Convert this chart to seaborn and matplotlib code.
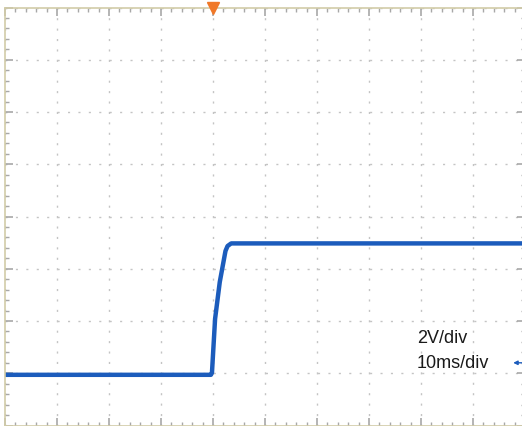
import matplotlib
matplotlib.use("Agg")
import matplotlib.pyplot as plt
import seaborn as sns
import pandas as pd
from matplotlib.ticker import MultipleLocator

# Waveform key points (time in ms, voltage in V relative to screen centre)
time_ms = [0.0, 39.6, 39.8, 40.4, 41.3, 42.4, 42.8, 43.5, 100.0]
volts = [-6.06, -6.06, -5.98, -3.92, -2.51, -1.32, -1.13, -1.03, -1.03]

scale_labels = ["2V/div", "10ms/div"]
trigger_time = [40.0]
ground_level = [-5.6]

df = pd.DataFrame({"t": time_ms, "v": volts})

sns.set_style("white")
plt.rcParams["font.family"] = ["Liberation Sans", "DejaVu Sans"]

fig = plt.figure(figsize=(5.22, 4.27), dpi=100)
ax = fig.add_axes([5 / 522, 0.5 / 427, 520 / 522, 418 / 427])

sns.lineplot(data=df, x="t", y="v", ax=ax, color="#1c5cbc", linewidth=3.2,
             estimator=None, sort=False, solid_capstyle="butt")

ax.set_xlim(0, 100)
ax.set_ylim(-8, 8)
ax.set_xlabel("")
ax.set_ylabel("")

ax.xaxis.set_major_locator(MultipleLocator(10))
ax.xaxis.set_minor_locator(MultipleLocator(2))
ax.yaxis.set_major_locator(MultipleLocator(2))
ax.yaxis.set_minor_locator(MultipleLocator(0.4))
ax.tick_params(which="both", direction="in", top=True, bottom=True, left=True, right=True,
               labelbottom=False, labelleft=False, color="#a8a8a8")
ax.tick_params(which="major", length=6, width=1.2)
ax.tick_params(which="minor", length=3, width=1.0)

ax.grid(True, which="major", color="#c4c4c4", linewidth=1.0, linestyle=(0, (1.5, 6.0)))
ax.set_axisbelow(True)

for s in ax.spines.values():
    s.set_color("#d2cca8")
    s.set_linewidth(1.2)

ax.text(79.2, -4.8, scale_labels[0], fontsize=13, color="#1a1a1a", va="baseline", ha="left")
ax.text(79.2, -5.77, scale_labels[1], fontsize=13, color="#1a1a1a", va="baseline", ha="left")

ax.plot(trigger_time, [8.0], marker="v", color="#f07828", markersize=8, clip_on=False,
        linestyle="none", zorder=5)

ax.annotate("", xy=(97.2, ground_level[0]), xytext=(100.5, ground_level[0]),
            arrowprops=dict(arrowstyle="-|>", color="#1c5cbc", lw=1.0, mutation_scale=6),
            annotation_clip=False)

fig.savefig("out.png", dpi=100)
